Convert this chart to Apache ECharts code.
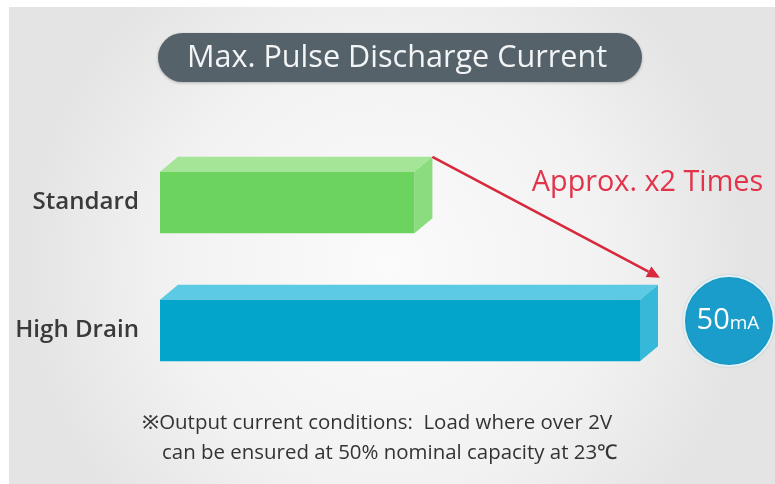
<!DOCTYPE html>
<html>
<head>
<meta charset="utf-8">
<script src="https://cdn.jsdelivr.net/npm/echarts@6/dist/echarts.min.js"></script>
<style>
html,body{margin:0;padding:0;background:#fff;}
#c{width:775px;height:484px;}
</style>
</head>
<body>
<div id="c"></div>
<script>
// ---- data ----
const categories = ['Standard', 'High Drain'];
const values = [26.5, 50];           // mA (Standard)
const highlightLabel = '50';
const highlightUnit = 'mA';
const titleText = 'Max. Pulse Discharge Current';
const ratioText = 'Approx. x2 Times';
const noteLine1 = '\u203BOutput current conditions:  Load where over 2V';
const noteLine2 = 'can be ensured at 50% nominal capacity at 23\u2103';

// ---- styles ----
const barColors = [
  {front: '#6dd35f', top: '#a4e597', side: '#8bdc7e'},
  {front: '#03a5cb', top: '#5ccae2', side: '#36b9d8'}
];
const DX = 18, DY = 15;
const FAMILY = '"Open Sans", "Noto Sans", sans-serif';

const mctx = document.createElement('canvas').getContext('2d');
function fit(text, weight, target) {
  mctx.font = weight + ' 100px ' + FAMILY;
  return Math.round(100 * target / mctx.measureText(text).width * 10) / 10;
}
const titleSize = fit(titleText, 400, 420);
const labelSize = fit('High Drain', 600, 124);
const ratioSize = fit(ratioText, 400, 231);
const note1Size = fit(noteLine1, 500, 468);
const note2Size = fit(noteLine2, 500, 460);
const noteSize = (note1Size + note2Size) / 2;

const chart = echarts.init(document.getElementById('c'), null, {renderer: 'canvas'});

function renderItem(params, api) {
  const cat = api.value(1);
  const val = api.value(0);
  const p0 = api.coord([0, cat]);
  const p1 = api.coord([val, cat]);
  const bh = api.size([0, 1])[1] * 0.48;
  const x0 = p0[0], x1 = p1[0];
  const yT = p0[1] - bh / 2, yB = p0[1] + bh / 2;
  const c = barColors[params.dataIndex];
  return {
    type: 'group',
    children: [
      {type: 'polygon', shape: {points: [[x0, yT], [x1, yT], [x1 + DX, yT - DY], [x0 + DX, yT - DY]]}, style: {fill: c.top}},
      {type: 'polygon', shape: {points: [[x1, yT], [x1 + DX, yT - DY], [x1 + DX, yB - DY], [x1, yB]]}, style: {fill: c.side}},
      {type: 'rect', shape: {x: x0, y: yT, width: x1 - x0, height: bh}, style: {fill: c.front}}
    ]
  };
}

const option = {
  animation: false,
  backgroundColor: {
    type: 'radial', x: 0.5, y: 0.55, r: 0.75,
    colorStops: [{offset: 0, color: '#fbfbfb'}, {offset: 0.6, color: '#f2f2f2'}, {offset: 1, color: '#e4e4e4'}]
  },
  grid: {left: 160, right: 135, top: 138.5, height: 256},
  xAxis: {type: 'value', min: 0, max: 50, show: false},
  yAxis: {
    type: 'category', data: categories, inverse: true,
    axisLine: {show: false}, axisTick: {show: false}, splitLine: {show: false},
    axisLabel: {fontSize: labelSize, fontWeight: 600, color: '#3a3a3a', margin: 21, fontFamily: FAMILY}
  },
  series: [{
    type: 'custom',
    renderItem: renderItem,
    encode: {x: 0, y: 1},
    data: values.map((v, i) => [v, i])
  }]
};
chart.setOption(option);

// ---- annotations positioned from the axes ----
const sEnd = chart.convertToPixel({gridIndex: 0}, [values[0], 0]);
const hEnd = chart.convertToPixel({gridIndex: 0}, [values[1], 1]);
const band = 128;
const bh = band * 0.48;
const a0 = [sEnd[0] + DX, sEnd[1] - bh / 2 - DY];
const a1 = [hEnd[0] + DX + 2, hEnd[1] - bh / 2 - DY - 7];
const ang = Math.atan2(a1[1] - a0[1], a1[0] - a0[0]);
const L = 13, W = 6;
const base = [a1[0] - L * Math.cos(ang), a1[1] - L * Math.sin(ang)];
const head = [
  a1,
  [base[0] + W * Math.sin(ang), base[1] - W * Math.cos(ang)],
  [base[0] - W * Math.sin(ang), base[1] + W * Math.cos(ang)]
];
const circleC = [hEnd[0] + 89, hEnd[1] - 9.5];

chart.setOption({
  graphic: [
    {type: 'rect', shape: {x: 0, y: 0, width: 775, height: 7}, style: {fill: '#ffffff'}, z: 1},
    {type: 'rect', shape: {x: 0, y: 0, width: 9, height: 484}, style: {fill: '#ffffff'}, z: 1},
    {type: 'rect', shape: {x: 158, y: 33, width: 484, height: 49, r: 24.5},
     style: {fill: '#56626a', shadowBlur: 3, shadowColor: 'rgba(0,0,0,0.25)', shadowOffsetY: 1}, z: 2},
    {type: 'text', x: 397, y: 58, style: {text: titleText, fill: '#f2f4f5', font: '400 ' + titleSize + 'px ' + FAMILY, align: 'center', verticalAlign: 'middle'}, z: 3},
    {type: 'line', shape: {x1: a0[0], y1: a0[1], x2: base[0], y2: base[1]}, style: {stroke: '#d8283c', lineWidth: 2.5}, z: 5},
    {type: 'polygon', shape: {points: head}, style: {fill: '#d8283c'}, z: 5},
    {type: 'text', x: 647.5, y: 183, style: {text: ratioText, fill: '#e2334a', font: '400 ' + ratioSize + 'px ' + FAMILY, align: 'center', verticalAlign: 'middle'}, z: 5},
    {type: 'circle', shape: {cx: circleC[0], cy: circleC[1], r: 45},
     style: {fill: '#1a9dca', stroke: '#dff2f8', lineWidth: 2, shadowBlur: 2, shadowColor: 'rgba(0,0,0,0.15)'}, z: 5},
    {type: 'text', x: circleC[0] - 1, y: circleC[1], z: 6,
     style: {
       text: '{a|' + highlightLabel + '}{b|' + highlightUnit + '}',
       align: 'center', verticalAlign: 'middle',
       rich: {
         a: {fontSize: 29, fontFamily: FAMILY, fill: '#ffffff', color: '#ffffff'},
         b: {fontSize: 19, fontFamily: FAMILY, fill: '#ffffff', color: '#ffffff', padding: [5, 0, 0, 0]}
       }
     }},
    {type: 'text', x: 142, y: 423, style: {text: noteLine1, fill: '#333', font: '500 ' + noteSize + 'px ' + FAMILY, align: 'left', verticalAlign: 'middle'}, z: 5},
    {type: 'text', x: 162, y: 453, style: {text: noteLine2, fill: '#333', font: '500 ' + noteSize + 'px ' + FAMILY, align: 'left', verticalAlign: 'middle'}, z: 5}
  ]
});
</script>
</body>
</html>
